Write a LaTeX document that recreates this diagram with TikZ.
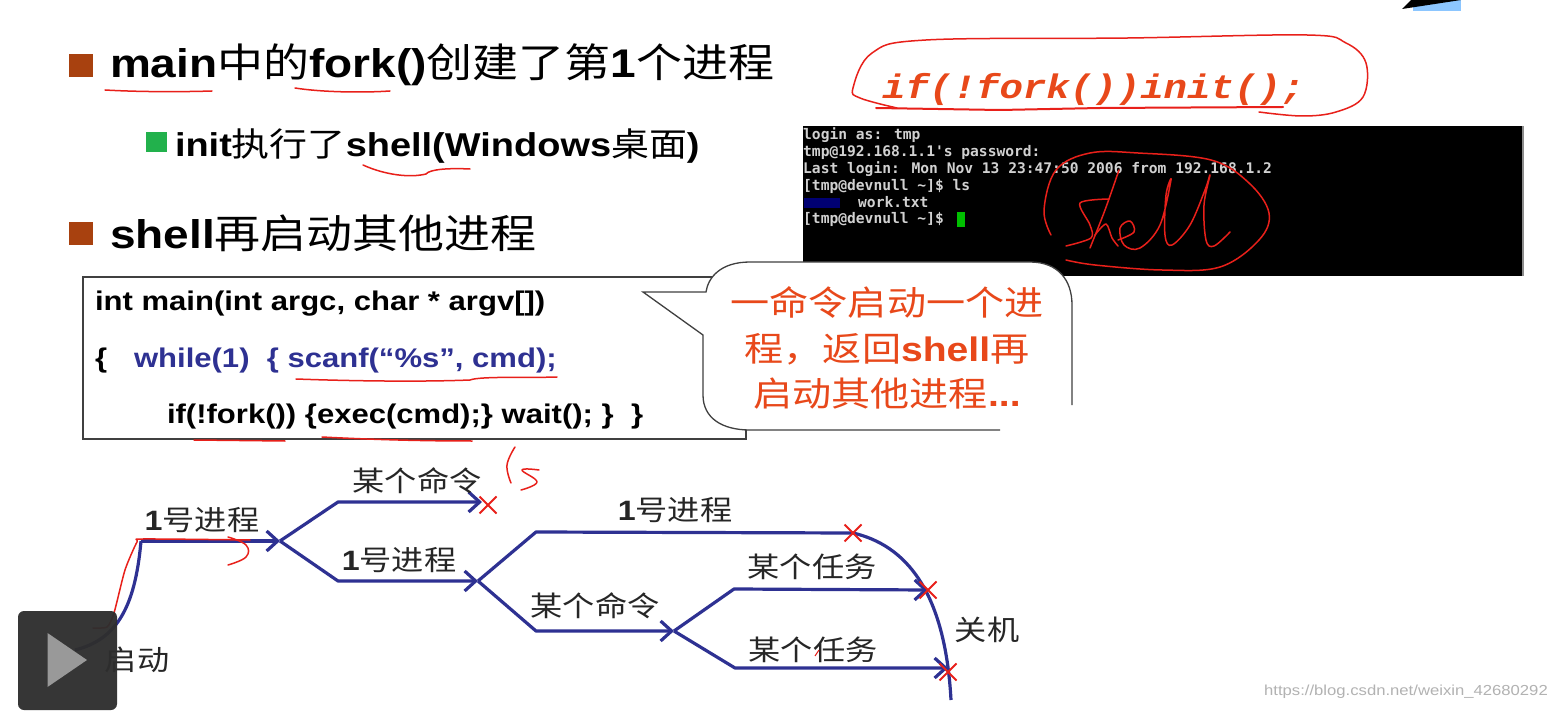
\documentclass[tikz,border=0pt]{standalone}
\usepackage{fontspec}
\usetikzlibrary{arrows.meta,shapes.misc}
\setmainfont[FakeStretch=1.15]{Liberation Sans}
\newfontfamily\cjk[FakeStretch=1.15]{Noto Sans CJK SC}
\newfontfamily\redmono[FakeStretch=1.15]{Liberation Mono}
\newfontfamily\termmono{DejaVu Sans Mono}
\newcommand{\zh}[1]{{\cjk\mdseries #1}}
\definecolor{flowblue}{HTML}{2E3192}
\definecolor{inkred}{HTML}{E8201A}
\definecolor{txtorange}{HTML}{E8481A}
\definecolor{bulbrown}{HTML}{A8410F}
\definecolor{bulgreen}{HTML}{22B14C}
\definecolor{codeblue}{HTML}{2E3192}
\tikzset{
 x=1pt,y=-1pt,
 txt/.style={anchor=west,inner sep=0pt,outer sep=0pt,font=\bfseries},
 head/.style={txt,font=\fontsize{40}{46}\selectfont\bfseries},
 subhead/.style={txt,font=\fontsize{33}{40}\selectfont\bfseries},
 code/.style={txt,font=\fontsize{27}{32}\selectfont\bfseries},
 flowlabel/.style={anchor=center,inner sep=0pt,font=\fontsize{28}{34}\selectfont\bfseries,text=black!85},
 term/.style={anchor=west,inner sep=0pt,text=black!18,font=\fontsize{14.6}{17}\selectfont\termmono\bfseries},
 ink/.style={draw=inkred,line width=1.5pt,line cap=round,line join=round},
 flow/.style={draw=flowblue,line width=3.2pt,line join=round},
 flowarrow/.style={flow,-{Straight Barb[length=11pt,width=20pt,line width=3.2pt]}},
 redx/.style={draw=inkred,cross out,line width=2pt,minimum size=17pt,inner sep=0pt,outer sep=0pt},
 bullet/.style={inner sep=0pt,minimum width=24pt,minimum height=23pt,fill=bulbrown},
}
\begin{document}
\begin{tikzpicture}
\useasboundingbox (0,0) rectangle (1556,711);
\fill[white] (0,0) rectangle (1556,711);

% top-right fragment
\fill[black!0,fill=blue!50!cyan!45] (1413,0) rectangle (1461,11);
\fill[black] (1402,9) -- (1411,0) -- (1461,0) -- cycle;

% bullets and headings
\node[bullet] (b1) at (81,65.5) {};
\node[head] (h1) at (110,65) {main\zh{中的}fork()\zh{创建了第}1\zh{个进程}};
\node[bullet,fill=bulgreen,minimum width=21pt,minimum height=20pt] (b2) at (156,142) {};
\node[subhead] (h2) at (175,146) {init\zh{执行了}shell(Windows\zh{桌面})};
\node[bullet] (b3) at (81,233.5) {};
\node[head] (h3) at (110,233) {shell\zh{再启动其他进程}};

% fork code
\node[inner sep=0pt,anchor=west,text=txtorange,font=\fontsize{34}{40}\selectfont\redmono\bfseries\itshape] (forkcode) at (882,89) {if(!fork()){init();}};

% terminal
\fill[black] (803,126) rectangle (1523,276);
\draw[black!45,line width=1.5pt] (1523,126) -- (1523,276);
\node[term] (t1) at (803,135) {login as: tmp};
\node[term] (t2) at (803,152) {tmp@192.168.1.1's password:};
\node[term] (t3) at (803,169) {Last login: Mon Nov 13 23:47:50 2006 from 192.168.1.2};
\node[term] (t4) at (803,186) {[tmp@devnull \textasciitilde]\$ ls};
\fill[blue!45!black] (804,198) rectangle (840,208);
\node[term] (t5) at (858,202) {work.txt};
\node[term] (t6) at (803,219) {[tmp@devnull \textasciitilde]\$};
\fill[green!75!black] (957,212) rectangle (965,227);

% code box
\draw[black!75,fill=white,line width=1.3pt] (83,277) rectangle (746,439);
\node[code] (c1) at (95,304) {int main(int argc, char * argv[])};
\node[code] (c2) at (95,361) {\{};
\node[code,text=codeblue] (c3) at (134,361) {while(1)\ \ \{ scanf(“\%s”, cmd);};
\node[code] (c4) at (167,417) {if(!fork()) \{exec(cmd);\} wait(); \}\ \ \}};

% callout
\fill[white] (703,400) -- (703,305) .. controls (703,280) and (720,262) .. (750,262)
 -- (1030,262) .. controls (1058,262) and (1072,280) .. (1072,305) -- (1072,430) -- (750,430)
 .. controls (720,430) and (703,420) .. (703,400) -- cycle;
\fill[white] (643,292) -- (706,282) -- (703,335) -- cycle;
\draw[black!75,line width=1.3pt] (1072,405) -- (1072,305) .. controls (1072,280) and (1058,262) .. (1030,262)
 -- (750,262) .. controls (720,262) and (708,278) .. (706,292) -- (643,292) -- (703,335) -- (703,395)
 .. controls (703,418) and (722,430) .. (750,430) -- (1000,430);
\node[inner sep=0pt,align=center,text=txtorange,font=\fontsize{34}{45.5}\selectfont\bfseries] (callout) at (887,348)
 {\zh{一命令启动一个进}\\\zh{程，返回}shell\zh{再}\\\zh{启动其他进程}...};

% flow diagram
\coordinate (start) at (75,650);
\coordinate (p1) at (141,541);
\coordinate (j1) at (280,541);
\coordinate (u1) at (338,502);
\coordinate (e1) at (482,502);
\coordinate (d1) at (338,581);
\coordinate (j2) at (478,581);
\coordinate (u2) at (536,532);
\coordinate (x2) at (853,533);
\coordinate (d2) at (536,631);
\coordinate (j3) at (674,631);
\coordinate (u3) at (734,589);
\coordinate (x3) at (928,590);
\coordinate (d3) at (735,668);
\coordinate (x4) at (948,672);
\coordinate (endp) at (951,700);
\path[flow] (start) .. controls (115,640) and (135,610) .. (p1);
\path[flowarrow] (p1) -- (j1);
\path[flowarrow] (j1) -- (u1) -- (e1);
\path[flowarrow] (j1) -- (d1) -- (j2);
\path[flow] (j2) -- (u2) -- (x2) .. controls (905,545) and (945,590) .. (endp);
\path[flowarrow] (j2) -- (d2) -- (j3);
\path[flowarrow] (j3) -- (u3) -- (x3);
\path[flowarrow] (j3) -- (d3) -- (x4 |- d3);

\node[flowlabel] (l1) at (202,520) {1\zh{号进程}};
\node[flowlabel] (l2) at (417,481) {\zh{某个命令}};
\node[flowlabel] (l3) at (399,560) {1\zh{号进程}};
\node[flowlabel] (l4) at (675,510) {1\zh{号进程}};
\node[flowlabel] (l5) at (595,606) {\zh{某个命令}};
\node[flowlabel] (l6) at (812,567) {\zh{某个任务}};
\node[flowlabel] (l7) at (813,650) {\zh{某个任务}};
\node[flowlabel] (l8) at (987,630) {\zh{关机}};
\node[flowlabel] (l9) at (137,660) {\zh{启动}};

\node[redx] (xa) at (488,505) {};
\node[redx] at (x2) {};
\node[redx] at (x3) {};
\node[redx] at (x4) {};

% red handwriting
\draw[ink] (105,90) .. controls (140,92) and (180,92) .. (212,91);
\draw[ink] (295,88) .. controls (320,92) and (360,93) .. (390,91);
\draw[ink] (363,165) .. controls (385,175) and (410,178) .. (426,174) .. controls (430,169) and (450,168) .. (470,169);
\draw[ink] (296,379) .. controls (350,381) and (420,382) .. (470,380) .. controls (480,376) and (530,378) .. (557,377);
\draw[ink] (194,440) -- (285,441);
\draw[ink] (322,437) .. controls (380,440) and (430,441) .. (472,441);
\draw[ink,smooth cycle] plot[smooth] coordinates {(876,108)};
\draw[ink] plot[smooth,tension=.6] coordinates {(897,108) (860,98) (853,88) (872,53) (926,40) (1128,38) (1307,35) (1346,43) (1366,63) (1363,97) (1336,112) (1302,116) (1259,112)};
\draw[ink,line width=2pt] (876,108) -- (1000,110) -- (1100,108) -- (1283,107);
\draw[ink] plot[smooth,tension=.6] coordinates {(1051,235) (1044,210) (1056,170) (1090,153) (1138,153) (1211,160) (1249,183) (1269,213) (1259,240) (1220,267) (1162,270) (1095,265) (1066,260)};
% word "shell"
\draw[ink] plot[smooth,tension=.5] coordinates {(1109,199) (1080,203) (1090,225) (1091,238) (1066,246)};
\draw[ink] plot[smooth,tension=.5] coordinates {(1119,170) (1105,210) (1090,248)};
\draw[ink] plot[smooth,tension=.5] coordinates {(1095,235) (1106,224) (1112,238) (1118,246)};
\draw[ink] plot[smooth,tension=.6] coordinates {(1118,240) (1134,232) (1130,221) (1120,228) (1124,245) (1140,248) (1160,225) (1171,180) (1166,195) (1165,235) (1172,245) (1190,225) (1205,190) (1210,175) (1204,205) (1206,240) (1214,246) (1230,232)};
% "(s"
\draw[ink] plot[smooth,tension=.7] coordinates {(515,447) (507,465) (511,483)};
\draw[ink] plot[smooth,tension=.7] coordinates {(539,470) (522,470) (537,482) (521,490)};
% first process trace
\draw[ink] plot[smooth,tension=.4] coordinates {(93,628) (107,627) (114,613) (125,570) (137,542) (143,539) (250,540)};
\draw[ink] plot[smooth,tension=.7] coordinates {(228,537) (246,545) (246,557) (228,565)};
\draw[inkred,line width=1pt] (815,656) -- (819,650);

% player button
\fill[black!82,opacity=.96,rounded corners=6pt] (18,611) rectangle (117,710);
\fill[black!40] (47.5,633) -- (87,660) -- (47.5,687) -- cycle;

% watermark
\node[anchor=east,inner sep=0pt,text=black!30,font=\fontsize{14.5}{18}\selectfont\mdseries] (wm) at (1548,692) {https://blog.csdn.net/weixin\_42680292};
\end{tikzpicture}
\end{document}
